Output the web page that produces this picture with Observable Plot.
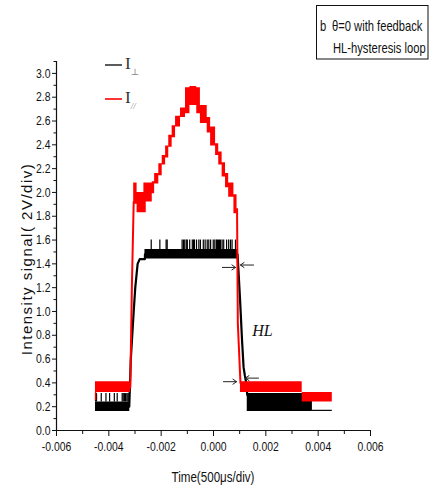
<!DOCTYPE html>
<html><head><meta charset="utf-8">
<script src="https://cdn.jsdelivr.net/npm/d3@7"></script>
<script src="https://cdn.jsdelivr.net/npm/@observablehq/plot@0.6"></script>
<style>
body{margin:0;background:#fff;}
#wrap{position:relative;width:431px;height:488px;}
#wrap svg{position:absolute;left:0;top:0;}
</style></head><body><div id="wrap"></div>
<script>
// ---- axes ----
const xDomain = [-0.006, 0.006];
const yDomain = [0, 3.1];
const xTicks = [-0.006, -0.004, -0.002, 0, 0.002, 0.004, 0.006];
const xMinor = [-0.005, -0.003, -0.001, 0.001, 0.003, 0.005];
const yTicks = [0, 0.2, 0.4, 0.6, 0.8, 1.0, 1.2, 1.4, 1.6, 1.8, 2.0, 2.2, 2.4, 2.6, 2.8, 3.0];
const yMinor = [0.1, 0.3, 0.5, 0.7, 0.9, 1.1, 1.3, 1.5, 1.7, 1.9, 2.1, 2.3, 2.5, 2.7, 2.9, 3.1];
const xLabel = "Time(500\u03bcs/div)";
const yLabel = "Intensity signal( 2V/div)";

// ---- I_perp (black) : noisy bands (x, lo, hi), segment id ----
const blackBandSeg = ["L","L","T","T","R","R","F","F"];
const blackBandX  = [-0.00451, -0.00320, -0.00262, 0.00092, 0.00129, 0.00378, 0.00378, 0.00454];
const blackBandLo = [0.16, 0.16, 1.44, 1.44, 0.16, 0.16, 0.16, 0.16];
const blackBandHi = [0.24, 0.24, 1.52, 1.52, 0.31, 0.31, 0.17, 0.17];
// transitions
const blackEdgeSeg = ["up","up","up","up","up","up","up","up","dn","dn","dn","dn","dn","dn","dn"];
const blackEdgeX = [-0.00322, -0.00316, -0.00305, -0.00299, -0.00290, -0.00282, -0.00262, -0.00262,
                    0.00092, 0.00101, 0.00109, 0.00115, 0.00120, 0.00125, 0.00129];
const blackEdgeY = [0.20, 0.60, 1.00, 1.20, 1.40, 1.44, 1.44, 1.48,
                    1.48, 1.12, 0.76, 0.53, 0.46, 0.40, 0.30];
// upward spikes of the plateau (to 1.6) and of the left baseline (to 0.31)
const blackSpikeX = [-0.00238, -0.00205, -0.00181, -0.00177, -0.00120, -0.00115, -0.00110, -0.00104, -0.00100,
                     -0.00091, -0.00081, -0.00076, -0.00073, -0.00065, -0.00056, -0.00050, -0.00039, -0.00032,
                     -0.00024, -0.00018, -0.00011, -0.00001, 0.00005, 0.00011, 0.00015, 0.00019, 0.00023, 0.00027,
                     0.00033, 0.00039, 0.00050, 0.00058, 0.00065, 0.00071, 0.00084];
const blackSpikeBase = 1.52, blackSpikeTop = 1.60;
const blackLowSpikeX = [-0.00451, -0.00447, -0.00429, -0.00411, -0.00397, -0.00379, -0.00368,
                        -0.00349, -0.00345, -0.00340, -0.00336, -0.00331, -0.00327, -0.00323];
const blackLowBase = 0.24, blackLowTop = 0.31;

// ---- I_par (red) ----
const redBandSeg = ["L","L","L",
  "T","T","T","T","T","T","T","T","T","T","T","T","T","T","T","T","T","T","T","T","T","T","T","T","T","T",
  "R","R","R"];
const redBandX = [-0.00451, -0.00446, -0.00317,
  -0.00305, -0.00292, -0.00266, -0.00257, -0.00234, -0.00225, -0.00209, -0.00196, -0.00183, -0.00171,
  -0.00158, -0.00145, -0.00126, -0.00107, -0.00090, -0.00064, -0.00050, -0.00024, -0.00011, 0.00008,
  0.00020, 0.00033, 0.00046, 0.00058, 0.00078, 0.00090,
  0.00103, 0.00339, 0.00454];
const redBandLo = [0.25, 0.32, 0.32,
  1.90, 1.83, 1.83, 1.92, 1.99, 2.07, 2.14, 2.23, 2.29, 2.38,
  2.46, 2.55, 2.63, 2.66, 2.73, 2.66, 2.58, 2.50, 2.39, 2.31,
  2.23, 2.13, 2.04, 1.96, 1.82, 1.82,
  0.32, 0.24, 0.24];
const redBandHi = [0.41, 0.41, 0.41,
  2.08, 2.00, 2.08, 2.08, 2.09, 2.16, 2.24, 2.31, 2.39, 2.48,
  2.56, 2.64, 2.71, 2.88, 2.89, 2.88, 2.73, 2.63, 2.55, 2.41,
  2.34, 2.25, 2.16, 2.08, 1.98, 1.98,
  0.41, 0.32, 0.32];
const redEdgeSeg = ["up","up","up","dn","dn","dn"];
const redEdgeX = [-0.00318, -0.00312, -0.00305, 0.00090, 0.00093, 0.00103];
const redEdgeY = [0.36, 1.20, 1.92, 1.86, 0.90, 0.40];

// ---- annotations ----
const arrowX1 = [0.00034, 0.00153, 0.00038, 0.00172];
const arrowX2 = [0.00084, 0.00103, 0.00088, 0.00122];
const arrowY  = [1.37, 1.39, 0.41, 0.44];
const hlLabel = {x: 0.00187, y: 0.84, text: "HL"};

const zip = (keys, ...cols) => cols[0].map((_, i) => Object.fromEntries(keys.map((k, j) => [k, cols[j][i]])));
const blackBand = zip(["seg","x","lo","hi"], blackBandSeg, blackBandX, blackBandLo, blackBandHi);
const blackEdge = zip(["seg","x","y"], blackEdgeSeg, blackEdgeX, blackEdgeY);
const redBand = zip(["seg","x","lo","hi"], redBandSeg, redBandX, redBandLo, redBandHi);
const redEdge = zip(["seg","x","y"], redEdgeSeg, redEdgeX, redEdgeY);
const arrows = zip(["x1","x2","y"], arrowX1, arrowX2, arrowY);

const sans = "'Liberation Sans',Arial,sans-serif";

const chart = Plot.plot({
  width: 431, height: 488,
  marginLeft: 56, marginRight: 61, marginTop: 61, marginBottom: 58,
  style: {fontFamily: sans, fontSize: "13px", color: "#111", background: "transparent"},
  x: {domain: xDomain},
  y: {domain: yDomain},
  marks: [
    Plot.axisY(yMinor, {tickSize: 2.5, tickFormat: () => "", label: null}),
    Plot.axisY(yTicks, {tickSize: 4, tickPadding: 2, tickFormat: d => d.toFixed(1), label: null, className: "tk"}),
    Plot.axisX(xMinor, {tickSize: 4, tickFormat: () => "", label: null}),
    Plot.axisX(xTicks, {tickSize: 6, tickPadding: 5, tickFormat: d => d.toFixed(3), label: null, className: "tk"}),
    Plot.ruleX([xDomain[0]], {stroke: "#111", strokeWidth: 1.2}),
    Plot.ruleY([yDomain[0]], {stroke: "#111", strokeWidth: 1.2}),
    // black I_perp
    Plot.areaY(blackBand, {x: "x", y1: "lo", y2: "hi", z: "seg", curve: "step-after", fill: "black"}),
    Plot.ruleX(blackSpikeX, {y1: blackSpikeBase, y2: blackSpikeTop, stroke: "black", strokeWidth: 1.2}),
    Plot.ruleX(blackLowSpikeX, {y1: blackLowBase, y2: blackLowTop, stroke: "black", strokeWidth: 1.2}),
    Plot.line(blackEdge, {x: "x", y: "y", z: "seg", stroke: "black", strokeWidth: 2.2}),
    // red I_par
    Plot.areaY(redBand, {x: "x", y1: "lo", y2: "hi", z: "seg", curve: "step-after", fill: "#ff0000"}),
    Plot.line(redEdge, {x: "x", y: "y", z: "seg", stroke: "#ff0000", strokeWidth: 2}),
    // annotations
    Plot.arrow(arrows, {x1: "x1", x2: "x2", y1: "y", y2: "y", stroke: "#222", strokeWidth: 1, headLength: 7, headAngle: 70}),
    Plot.text([hlLabel], {x: "x", y: "y", text: "text", fontFamily: "'Liberation Serif','DejaVu Serif',serif",
      fontStyle: "italic", fontSize: 16, fill: "#111"})
  ]
});
const wrap = document.getElementById("wrap");
wrap.appendChild(chart);

// condense a text horizontally (narrow-font look)
function condense(node, f) {
  const len = node.getComputedTextLength();
  if (len > 0) {
    node.setAttribute("textLength", (len * f).toFixed(2));
    node.setAttribute("lengthAdjust", "spacingAndGlyphs");
  }
}
chart.querySelectorAll("g.tk text").forEach(t => condense(t, 0.8));

// overlay: axis titles, legend, info box
const ov = d3.select(wrap).append("svg").attr("width", 431).attr("height", 488)
  .style("pointer-events", "none");
ov.append("text").attr("transform", "translate(213,482) scale(0.8,1)").attr("text-anchor", "middle")
  .style("font-family", sans).style("font-size", "14.5px").attr("fill", "#111").text(xLabel);
ov.append("text").attr("transform", "translate(32,259) rotate(-90)").attr("text-anchor", "middle")
  .style("font-family", sans).style("font-size", "15px")
  .style("letter-spacing", "1.5px").attr("fill", "#111").text(yLabel);

// legend
const legendItems = [{color: "#333", sub: "\u22a5", y: 65}, {color: "#ff0000", sub: "//", y: 99}];
legendItems.forEach(d => {
  ov.append("line").attr("x1", 105).attr("x2", 122).attr("y1", d.y).attr("y2", d.y)
    .attr("stroke", d.color).attr("stroke-width", 1.6);
  const t = ov.append("text").attr("x", 125).attr("y", d.y + 4)
    .style("font-family", "'Liberation Serif','DejaVu Serif',serif").style("font-size", "17px").attr("fill", "#333");
  t.append("tspan").text("I");
  t.append("tspan").attr("dy", 6).style("font-size", "9px").attr("fill", "#888")
    .style("font-style", d.sub === "//" ? "italic" : "normal").text(d.sub);
});

// info box
ov.append("rect").attr("x", 316.5).attr("y", 5.5).attr("width", 111.5).attr("height", 53.5)
  .attr("fill", "white").attr("stroke", "#111").attr("stroke-width", 1);
const boxLines = [
  {x: 320, y: 31, text: "b"},
  {x: 332, y: 31, text: "\u03b8=0 with feedback"},
  {x: 333, y: 53, text: "HL-hysteresis loop"}
];
boxLines.forEach(d => {
  ov.append("text").attr("transform", `translate(${d.x},${d.y}) scale(0.8,1)`)
    .style("font-family", sans).style("font-size", "14px").attr("fill", "#111").text(d.text);
});
</script>
</body></html>
